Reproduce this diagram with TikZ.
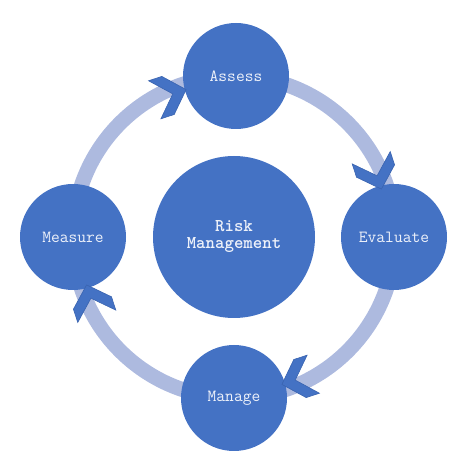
\documentclass[tikz,border=0pt]{standalone}
\usepackage{fontspec}
\usetikzlibrary{calc}
\definecolor{cblue}{HTML}{4472C4}
\definecolor{cedge}{HTML}{3A64B0}
\definecolor{ringc}{HTML}{ADBADF}
\definecolor{txtc}{HTML}{EEF2FA}
\begin{document}
\begin{tikzpicture}[x=1pt,y=1pt,
  stage/.style={circle,fill=cblue,minimum size=106pt,inner sep=0pt,text=txtc,font=\ttfamily\fontsize{17}{19}\selectfont},
  hub/.style={circle,fill=cblue,minimum size=162pt,inner sep=0pt,text=txtc,align=center,font=\ttfamily\bfseries\fontsize{18}{17}\selectfont},
  ringline/.style={draw=ringc,line width=15pt},
  chev/.pic={\fill[cblue,draw=cedge,line width=0.6pt] (0,0) -- (-19,20) -- (-33,20) -- (-14,0) -- (-33,-20) -- (-19,-20) -- cycle;}]
\useasboundingbox (0,0) rectangle (474,474);
\node[hub] (hub) at (234,237) {Risk\\Management};
\draw[ringline] (hub.center) circle (161);
\node[stage] (assess) at (236,398) {Assess};
\node[stage] (evaluate) at (394,237) {Evaluate};
\node[stage] (manage) at (234,76) {Manage};
\node[stage] (measure) at (73,237) {Measure};
\foreach \t in {108,18,-72,198}{
  \pic[rotate=\t-90] at ($(hub.center)+(\t:155)$) {chev};
}
\end{tikzpicture}
\end{document}
